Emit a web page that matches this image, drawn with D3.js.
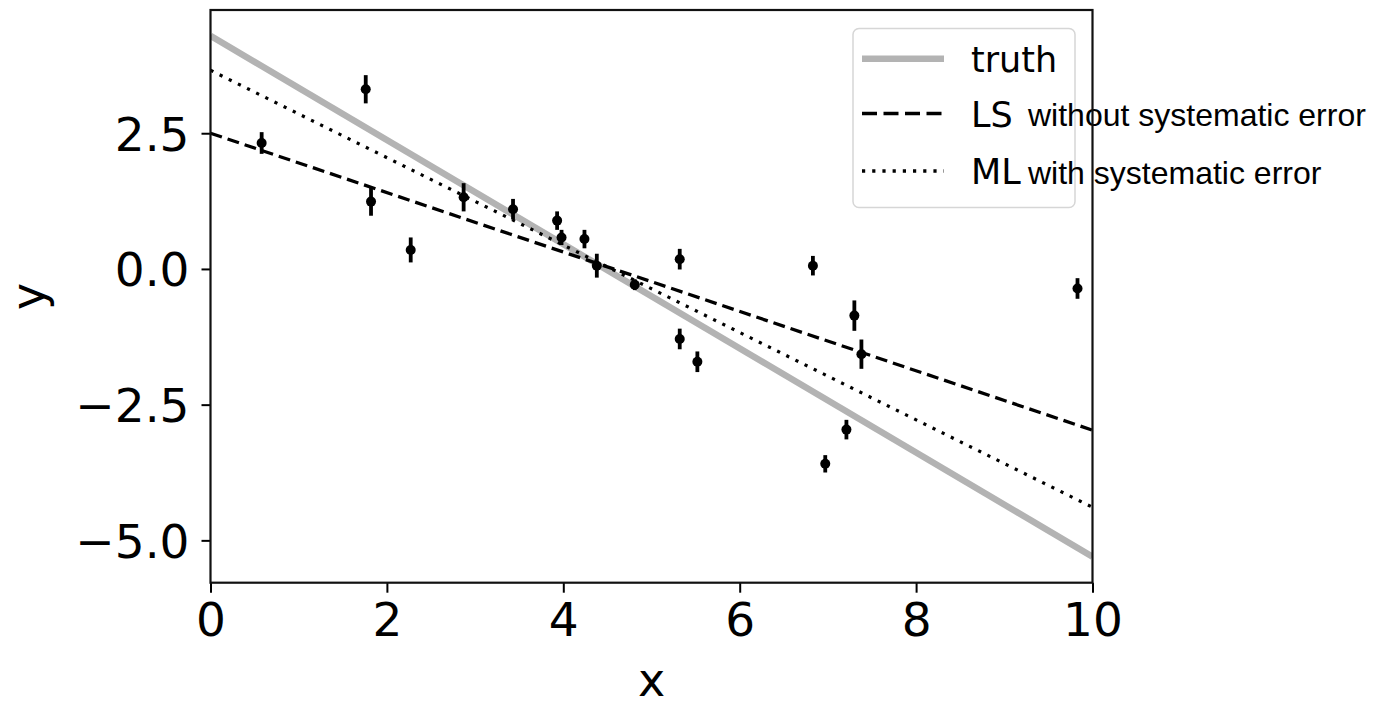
<!DOCTYPE html>
<html>
<head>
<meta charset="utf-8">
<script src="https://cdn.jsdelivr.net/npm/d3@7"></script>
<style>
  html, body { margin: 0; padding: 0; background: #fff; }
  svg { display: block; }
</style>
</head>
<body>
<svg id="chart" width="1376" height="707"></svg>
<script>
// ---- data ----
const xValues = [0.58, 1.76, 1.82, 2.27, 2.87, 3.43, 3.93, 3.98, 4.24, 4.38, 4.81, 5.32, 5.32, 5.52, 6.83, 7.30, 7.38, 7.21, 6.97, 9.83];
const yValues = [2.32, 3.31, 1.24, 0.35, 1.32, 1.10, 0.89, 0.58, 0.55, 0.06, -0.29, 0.18, -1.29, -1.71, 0.06, -0.86, -1.57, -2.96, -3.59, -0.36];
const yErrors = [0.20, 0.26, 0.26, 0.23, 0.26, 0.19, 0.17, 0.14, 0.17, 0.22, 0.10, 0.19, 0.19, 0.19, 0.18, 0.28, 0.27, 0.18, 0.16, 0.19];

const lineNames = ["truth", "LS", "ML"];
const lineIntercepts = [4.294, 2.50, 3.66];
const lineSlopes = [-0.9594, -0.547, -0.805];
const legendNotes = ["", "without systematic error", "with systematic error"];

const xTicks = [0, 2, 4, 6, 8, 10];
const yTicks = [-5.0, -2.5, 0.0, 2.5];
const xDomain = [0, 10];
const yDomain = [-5.78, 4.77];

// ---- layout ----
const L = 210.5, R = 1092.5, T = 10, B = 582.7;
const svg = d3.select("#chart");
const x = d3.scaleLinear().domain(xDomain).range([L, R]);
const y = d3.scaleLinear().domain(yDomain).range([B, T]);

const styles = {
  truth: { stroke: "#b3b3b3", width: 6.5, dash: null },
  LS: { stroke: "#000", width: 3.3, dash: "12,6" },
  ML: { stroke: "#000", width: 3.2, dash: "3.2,7" }
};

const plot = svg.append("g");
svg.append("clipPath").attr("id", "clip")
  .append("rect").attr("x", L).attr("y", T).attr("width", R - L).attr("height", B - T);

// lines
const lineGen = d3.line().x(d => x(d[0])).y(d => y(d[1]));
lineNames.forEach((name, i) => {
  const pts = xDomain.map(xv => [xv, lineIntercepts[i] + lineSlopes[i] * xv]);
  const s = styles[name];
  plot.append("path")
    .attr("d", lineGen(pts))
    .attr("clip-path", "url(#clip)")
    .attr("fill", "none")
    .attr("stroke", s.stroke)
    .attr("stroke-width", s.width)
    .attr("stroke-dasharray", s.dash);
});

// error bars + points
const pts = xValues.map((xv, i) => ({ x: xv, y: yValues[i], e: yErrors[i] }));
plot.selectAll("line.err").data(pts).enter().append("line")
  .attr("class", "err")
  .attr("x1", d => x(d.x)).attr("x2", d => x(d.x))
  .attr("y1", d => y(d.y - d.e)).attr("y2", d => y(d.y + d.e))
  .attr("stroke", "#000").attr("stroke-width", 3.8);
plot.selectAll("circle.pt").data(pts).enter().append("circle")
  .attr("class", "pt")
  .attr("cx", d => x(d.x)).attr("cy", d => y(d.y)).attr("r", 5)
  .attr("fill", "#000");

// axes
const font = "'DejaVu Sans', sans-serif";
const xAxis = svg.append("g").attr("transform", `translate(0,${B})`)
  .call(d3.axisBottom(x).tickValues(xTicks).tickFormat(d3.format("d")).tickSize(10).tickPadding(10));
const yAxis = svg.append("g").attr("transform", `translate(${L},0)`)
  .call(d3.axisLeft(y).tickValues(yTicks).tickFormat(d3.format(".1f")).tickSize(9).tickPadding(12));
[xAxis, yAxis].forEach(a => {
  a.select(".domain").remove();
  a.selectAll(".tick line").attr("stroke", "#000").attr("stroke-width", 2);
  a.selectAll(".tick text").attr("font-family", font).attr("font-size", 47).attr("fill", "#000");
});
yAxis.selectAll(".tick text").attr("dy", "0.36em");

// axis labels
svg.append("text").attr("x", (L + R) / 2).attr("y", 696)
  .attr("text-anchor", "middle").attr("font-family", font).attr("font-size", 46).text("x");
svg.append("text").attr("transform", `translate(44,${(T + B) / 2}) rotate(-90)`)
  .attr("text-anchor", "middle").attr("font-family", font).attr("font-size", 46).text("y");

// legend
const lg = svg.append("g");
lg.append("rect").attr("x", 853).attr("y", 28.5).attr("width", 222).attr("height", 179)
  .attr("rx", 6).attr("fill", "#fff").attr("fill-opacity", 0.8)
  .attr("stroke", "#d6d6d6").attr("stroke-width", 1.5);
const rowY = [58.8, 113.5, 171];
lineNames.forEach((name, i) => {
  const s = styles[name];
  lg.append("line").attr("x1", 862).attr("x2", 944).attr("y1", rowY[i]).attr("y2", rowY[i])
    .attr("stroke", s.stroke).attr("stroke-width", name === "truth" ? 6.5 : 3.3)
    .attr("stroke-dasharray", name === "LS" ? "15,6.5" : s.dash);
  lg.append("text").attr("x", 971).attr("y", rowY[i] + 13)
    .attr("font-family", font).attr("font-size", 35).attr("fill", "#000").text(name);
  if (legendNotes[i]) {
    lg.append("text").attr("x", 1028).attr("y", rowY[i] + 12.5)
      .attr("font-family", "'Liberation Sans', Arial, sans-serif").attr("font-size", 32)
      .attr("fill", "#000").text(legendNotes[i]);
  }
});

// spines
svg.append("rect").attr("x", L).attr("y", T).attr("width", R - L).attr("height", B - T)
  .attr("fill", "none").attr("stroke", "#111").attr("stroke-width", 2.2);
</script>
</body>
</html>
